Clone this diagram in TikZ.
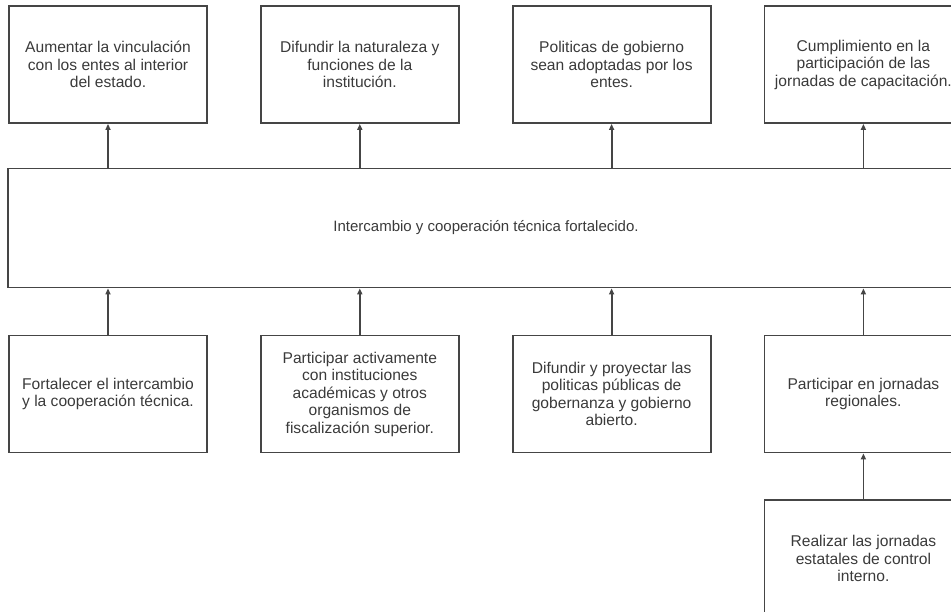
\documentclass[tikz,border=0pt]{standalone}
\usepackage{fontspec}
\setmainfont{Liberation Sans}
\usepackage{xcolor}
\usetikzlibrary{arrows.meta,positioning}

\definecolor{linegray}{HTML}{454545}
\definecolor{textgray}{HTML}{3A3A3A}

\begin{document}
\begin{tikzpicture}[
    x=1pt, y=1pt,
    node distance=52pt,
    box/.style={draw=linegray, line width=1.8pt, align=center, minimum width=198pt, minimum height=117pt, inner sep=0pt, text=textgray, font=\fontsize{15.6}{17.5}\selectfont},
    bar/.style={draw=linegray, line width=1.8pt, minimum width=956pt, minimum height=119pt, inner sep=0pt, text=textgray, font=\fontsize{15}{18}\selectfont},
    link/.style={draw=linegray, line width=1.8pt, -{Triangle[length=6pt, width=5pt]}}
  ]
    \useasboundingbox (0,0) rectangle (951,-611);
    \clip (0,0) rectangle (951,-611);
    % results
    \node[box] (top1) at (108,-64.5) {Aumentar la vinculación\\con los entes al interior\\del estado.};
    \node[box, right=of top1] (top2) {Difundir la naturaleza y\\funciones de la\\institución.};
    \node[box, right=of top2] (top3) {Politicas de gobierno\\sean adoptadas por los\\entes.};
    \node[box, right=of top3] (top4) {Cumplimiento en la\\participación de las\\jornadas de capacitación.};
    % purpose
    \node[bar] (mid) at (486,-228) {Intercambio y cooperación técnica fortalecido.};
    % components
    \node[box] (bot1) at (108,-394) {Fortalecer el intercambio\\y la cooperación técnica.};
    \node[box, right=of bot1] (bot2) {Participar activamente\\con instituciones\\académicas y otros\\organismos de\\fiscalización superior.};
    \node[box, right=of bot2] (bot3) {Difundir y proyectar las\\politicas públicas de\\gobernanza y gobierno\\abierto.};
    \node[box, right=of bot3] (bot4) {Participar en jornadas\\regionales.};
    \node[box, below=46pt of bot4] (bot5) {Realizar las jornadas\\estatales de control\\interno.};
    \foreach \n in {1,2,3,4} {
      \draw[link] (top\n |- mid.north) -- (top\n.south);
      \draw[link] (bot\n.north) -- (bot\n |- mid.south);
    }
    \draw[link] (bot5) -- (bot4);
  \end{tikzpicture}
\end{document}
